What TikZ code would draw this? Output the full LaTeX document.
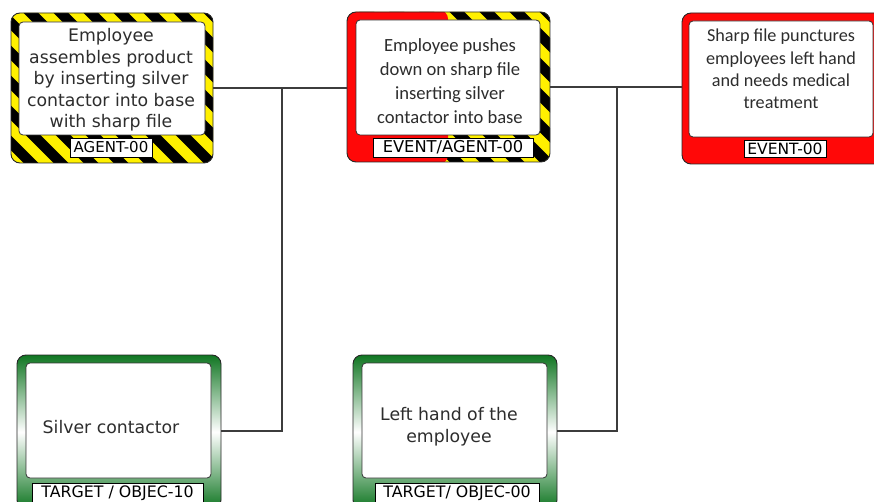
\documentclass[tikz,border=0pt]{standalone}
\usepackage{fontspec}
\setmainfont{DejaVu Sans}
\newfontfamily\calibfont{Carlito}
\definecolor{hazyellow}{RGB}{255,240,0}
\definecolor{alarmred}{RGB}{255,8,8}
\definecolor{targetgreen}{RGB}{16,118,34}
\definecolor{inkgray}{RGB}{45,45,45}
\definecolor{wiregray}{RGB}{60,60,60}
\begin{document}
\begin{tikzpicture}[x=1pt,y=-1pt,
  % outer frame of every card
  outerbox/.style={rectangle, rounded corners=9pt, draw=black!85, line width=0.9pt,
    inner sep=0pt, outer sep=0pt, anchor=north west},
  % yellow/black warning stripes
  hazard/.style={path picture={
    \fill[hazyellow] (path picture bounding box.south west) rectangle (path picture bounding box.north east);
    \foreach \s in {-240,-210,...,240}
      \draw[black, line width=10.5pt]
        ([xshift=\s pt, yshift=20pt]path picture bounding box.north west) -- ++(240pt,-240pt);
  }},
  % stripes on the right, solid red on the left
  halfhazard/.style={path picture={
    \fill[hazyellow] (path picture bounding box.south west) rectangle (path picture bounding box.north east);
    \foreach \s in {-240,-210,...,240}
      \draw[black, line width=10.5pt]
        ([xshift=\s pt, yshift=20pt]path picture bounding box.north west) -- ++(240pt,-240pt);
    \fill[alarmred] ([yshift=2pt]path picture bounding box.north west) rectangle
      ([xshift=101pt,yshift=-2pt]path picture bounding box.south west);
  }},
  redframe/.style={fill=alarmred},
  greenframe/.style={top color=targetgreen, bottom color=targetgreen, middle color=white},
  innerbox/.style={rectangle, rounded corners=4pt, draw=black!80, line width=0.8pt,
    fill=white, inner sep=0pt, outer sep=0pt, anchor=north west},
  tagbox/.style={rectangle, draw=black, line width=0.7pt, fill=white, inner sep=0pt,
    outer sep=0pt, anchor=north west, text=black},
  bodytext/.style={align=center, text=inkgray, inner sep=0pt},
  conn/.style={draw=wiregray, line width=1.1pt}
]
\useasboundingbox (0,0) rectangle (874,502);
\clip (0,0) rectangle (874,502);

% ---- agent card ----
\node[outerbox, hazard, minimum width=202pt, minimum height=150pt] (agent) at (11,13) {};
\node[innerbox, minimum width=186pt, minimum height=113pt] (agentin) at (19,22) {};
\node[bodytext, font=\fontsize{17.3}{21.5}\selectfont] (agenttxt) at (111,80)
  {Employee\\assembles product\\by inserting silver\\contactor into base\\with sharp file};
\node[tagbox, minimum width=82pt, minimum height=19pt, font=\fontsize{15}{16}\selectfont]
  (agenttag) at (70,138) {AGENT-00};

% ---- event / agent card ----
\node[outerbox, halfhazard, minimum width=203pt, minimum height=150pt] (evagent) at (347,12) {};
\node[innerbox, minimum width=184pt, minimum height=115pt] (evagentin) at (356,20) {};
\node[bodytext, font=\calibfont\fontsize{18.6}{24}\selectfont] (evagenttxt) at (450,81)
  {Employee pushes\\down on sharp file\\inserting silver\\contactor into base};
\node[tagbox, minimum width=160pt, minimum height=19pt, font=\fontsize{16.3}{17}\selectfont]
  (evagenttag) at (373,138) {EVENT/AGENT-00};

% ---- event card ----
\node[outerbox, redframe, minimum width=202pt, minimum height=151pt] (event) at (682,13) {};
\node[innerbox, minimum width=184pt, minimum height=116pt] (eventin) at (689,21) {};
\node[bodytext, font=\calibfont\fontsize{18.2}{22.4}\selectfont] (eventtxt) at (781,69)
  {Sharp file punctures\\employees left hand\\and needs medical\\treatment};
\node[tagbox, minimum width=82pt, minimum height=17pt, font=\fontsize{15.5}{16}\selectfont]
  (eventtag) at (744,140) {EVENT-00};

% ---- target: silver contactor ----
\node[outerbox, greenframe, minimum width=204pt, minimum height=154pt] (silver) at (17,355) {};
\node[innerbox, minimum width=185pt, minimum height=115pt] (silverin) at (26,363) {};
\node[bodytext, font=\fontsize{17.3}{21.5}\selectfont] (silvertxt) at (111,427)
  {Silver contactor};
\node[tagbox, minimum width=171pt, minimum height=20pt, font=\fontsize{15.8}{17}\selectfont]
  (silvertag) at (32,483) {TARGET / OBJEC-10};

% ---- target: left hand ----
\node[outerbox, greenframe, minimum width=204pt, minimum height=154pt] (hand) at (353,355) {};
\node[innerbox, minimum width=185pt, minimum height=115pt] (handin) at (362,363) {};
\node[bodytext, font=\fontsize{17.3}{21.5}\selectfont] (handtxt) at (449,426.5)
  {Left hand of the\\employee};
\node[tagbox, minimum width=164pt, minimum height=20pt, font=\fontsize{15.8}{17}\selectfont]
  (handtag) at (375,483) {TARGET/ OBJEC-00};

% ---- connectors ----
\coordinate (jleft) at (282,88);
\coordinate (kleft) at (282,431);
\coordinate (jright) at (617,87);
\coordinate (kright) at (617,431);
\draw[conn] (agent.east |- jleft) -- (evagent.west |- jleft);
\draw[conn] (jleft) -- (kleft) -- (kleft -| silver.east);
\draw[conn] (evagent.east |- jright) -- (event.west |- jright);
\draw[conn] (jright) -- (kright) -- (kright -| hand.east);
\end{tikzpicture}
\end{document}
